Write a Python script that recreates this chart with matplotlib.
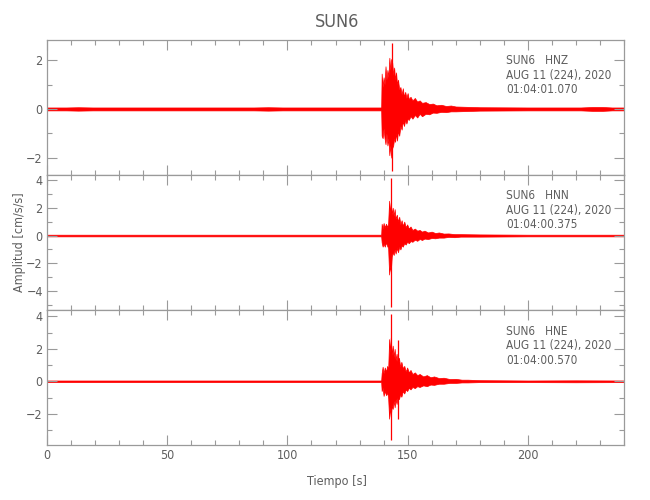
import numpy as np
import matplotlib
matplotlib.use('Agg')
from matplotlib import pyplot as plt
from matplotlib.ticker import MultipleLocator

plt.rcParams['font.family'] = ['DejaVu Sans']
plt.rcParams['font.stretch'] = 'condensed'
plt.rcParams['font.weight'] = 'light'

station = 'SUN6'
channels = ['HNZ', 'HNN', 'HNE']
dates = ['AUG 11 (224), 2020'] * 3
start_times = ['01:04:01.070', '01:04:00.375', '01:04:00.570']

# envelope of each trace (upper / lower peak amplitude, cm/s/s)
hnz_t = [0, 8, 13, 19, 30, 50, 70, 86, 92, 98, 120, 139.0, 139.2, 139.6, 140.0, 140.4,
         140.8, 141.2, 141.6, 142.0, 142.4, 142.8, 143.2, 143.6, 144.0, 144.4, 144.8,
         145.2, 145.6, 146.0, 146.5, 147.0, 147.5, 148.0, 148.5, 149.0, 149.5, 150.0,
         150.5, 151.2, 152, 153, 154, 155, 156, 157.5, 159, 160.5, 162, 164, 166, 168,
         170, 180, 200, 222, 227, 231, 235, 240]
hnz_hi = [.06, .06, .07, .06, .06, .06, .06, .06, .07, .06, .06, .06, 1.45, .9, 1.3, 1.0,
          1.75, 1.2, 1.6, 1.3, 2.1, 1.6, 2.05, 1.9, 1.4, 1.7, 1.2,
          1.5, 1.0, 1.2, .8, .9, .6, .85, .5, .7, .45, .65,
          .4, .5, .35, .45, .3, .35, .25, .28, .2, .22, .15, .17, .12, .14,
          .1, .07, .06, .06, .08, .08, .06, .06]
hnz_lo = [-.06, -.06, -.07, -.06, -.06, -.06, -.06, -.06, -.07, -.06, -.06, -.06, -1.1, -1.2, -.8, -1.2,
          -1.45, -1.0, -1.5, -1.2, -1.9, -1.5, -2.0, -1.6, -1.5, -1.2, -1.35,
          -1.0, -1.3, -.9, -1.1, -.7, -.85, -.5, -.7, -.45, -.6, -.4,
          -.45, -.3, -.4, -.25, -.35, -.2, -.3, -.2, -.22, -.15, -.16, -.12, -.13, -.1,
          -.1, -.07, -.06, -.06, -.08, -.08, -.06, -.06]
hnz_spike_t = [143.7]
hnz_spike_hi = [2.7]
hnz_spike_lo = [-2.55]

hnn_t = [0, 30, 60, 100, 139.0, 139.2, 139.6, 140.0, 140.5, 141.0, 141.5, 141.9, 142.3,
         142.6, 143.0, 143.4, 143.8, 144.2, 144.6, 145.0, 145.5, 146.0, 146.5, 147.0,
         147.5, 148.0, 148.6, 149.2, 149.8, 150.5, 151.2, 152, 153, 154, 155, 156, 157,
         158.5, 160, 161.5, 163, 165, 167, 169.5, 172, 180, 200, 240]
hnn_hi = [.06, .06, .06, .06, .06, .85, .5, .9, .6, .85, .6, .9, 2.5,
          1.6, 2.4, 1.5, 2.0, 1.4, 1.9, 1.2, 1.5, 1.0, 1.35, .8,
          1.1, .7, 1.0, .6, .8, .5, .65, .4, .5, .35, .4, .28, .35,
          .22, .28, .18, .22, .14, .15, .1, .1, .08, .06, .06]
hnn_lo = [-.06, -.06, -.06, -.06, -.06, -.5, -.8, -.6, -.8, -.5, -.75, -.9, -2.8,
          -2.2, -2.6, -1.5, -1.2, -1.4, -1.0, -1.3, -.9, -1.2, -.8, -1.0,
          -.7, -.8, -.55, -.65, -.45, -.55, -.4, -.45, -.3, -.38, -.25, -.32, -.22,
          -.25, -.18, -.2, -.15, -.15, -.1, -.12, -.08, -.08, -.06, -.06]
hnn_spike_t = [142.9]
hnn_spike_hi = [4.1]
hnn_spike_lo = [-5.1]

hne_t = [0, 30, 60, 100, 139.0, 139.2, 139.6, 140.0, 140.5, 141.0, 141.5, 141.9, 142.3,
         142.6, 143.0, 143.4, 143.8, 144.2, 144.6, 145.0, 145.4, 145.9, 146.4, 146.9,
         147.4, 148.0, 148.6, 149.2, 149.8, 150.5, 151.2, 152, 153, 154, 155, 156.5,
         158, 159.5, 161, 163, 165, 167.5, 170, 172.5, 175, 180, 200, 220, 240]
hne_hi = [.05, .05, .05, .05, .05, .5, .9, .5, .85, .6, .95, .7, 2.6,
          1.8, 2.7, 1.6, 2.2, 1.5, 2.0, 1.3, 1.7, 1.1, 1.45, .9,
          1.2, .8, .95, .6, .85, .55, .7, .45, .55, .38, .45, .3,
          .38, .25, .3, .2, .22, .14, .15, .1, .1, .07, .05, .06, .05]
hne_lo = [-.05, -.05, -.05, -.05, -.05, -.6, -.4, -.9, -.6, -.85, -.7, -1.0, -2.3,
          -1.6, -2.2, -1.5, -1.7, -1.2, -1.6, -1.1, -1.4, -.9, -1.1, -.8,
          -.95, -.6, -.75, -.5, -.6, -.4, -.5, -.35, -.42, -.3, -.35, -.25,
          -.3, -.2, -.22, -.15, -.15, -.1, -.1, -.07, -.07, -.05, -.05, -.06, -.05]
hne_spike_t = [142.9, 145.8]
hne_spike_hi = [4.15, 2.55]
hne_spike_lo = [-3.6, -2.35]

traces = [
    (hnz_t, hnz_hi, hnz_lo, hnz_spike_t, hnz_spike_hi, hnz_spike_lo),
    (hnn_t, hnn_hi, hnn_lo, hnn_spike_t, hnn_spike_hi, hnn_spike_lo),
    (hne_t, hne_hi, hne_lo, hne_spike_t, hne_spike_hi, hne_spike_lo),
]
ylims = [(-2.71, 2.84), (-5.35, 4.37), (-3.94, 4.39)]

axis_col = '#9a9a9a'
text_col = '#5e5e5e'
red = '#ff0000'

fig = plt.figure(figsize=(6.5, 5.0), dpi=100)
left, width = 47 / 650, 577 / 650
bottoms = [0.65, 0.38, 0.1094]
height = 0.2706

for i, (t, hi, lo, st, sh, sl) in enumerate(traces):
    ax = fig.add_axes([left, bottoms[i], width, height])
    ax.fill_between(t, lo, hi, color=red, linewidth=0.5, edgecolor=red)
    ax.vlines(st, sl, sh, color=red, linewidth=0.9)
    ax.set_xlim(0, 240)
    ax.set_ylim(*ylims[i])
    ax.xaxis.set_major_locator(MultipleLocator(50))
    ax.xaxis.set_minor_locator(MultipleLocator(10))
    ax.yaxis.set_major_locator(MultipleLocator(2))
    ax.yaxis.set_minor_locator(MultipleLocator(1))
    ax.tick_params(which='both', direction='in', top=True, right=True,
                   color=axis_col, labelcolor=text_col, labelsize=9, width=0.8)
    ax.tick_params(which='major', length=7.5, pad=3)
    ax.tick_params(which='minor', length=3.5)
    for s in ax.spines.values():
        s.set_color(axis_col)
        s.set_linewidth(0.9)
    if i < 2:
        ax.tick_params(labelbottom=False)
    for j, line in enumerate([station + '   ' + channels[i], dates[i], start_times[i]]):
        ax.text(0.796, 1 - (21 + 14.5 * j) / 135, line, transform=ax.transAxes,
                va='center', ha='left', color=text_col, fontsize=8.5)

fig.text(337 / 650, 1 - 22 / 500, station, ha='center', va='center',
         color=text_col, fontsize=13)
fig.text(337 / 650, 1 - 482 / 500, 'Tiempo [s]', ha='center', va='center',
         color=text_col, fontsize=9)
fig.text(20 / 650, 1 - 242 / 500, 'Amplitud [cm/s/s]', ha='center', va='center',
         rotation=90, color=text_col, fontsize=9)

fig.savefig('out.png', dpi=100)
